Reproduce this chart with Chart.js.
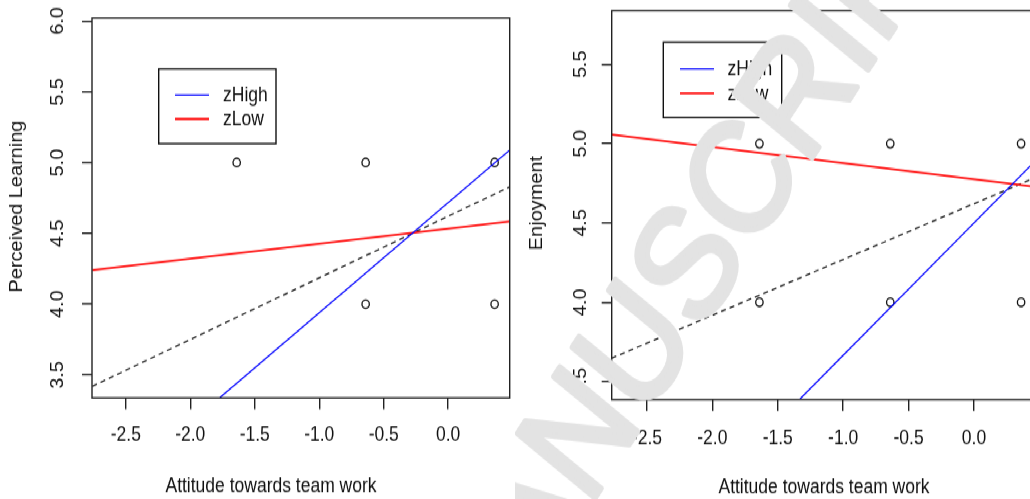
<!DOCTYPE html>
<html>
<head>
<meta charset="utf-8">
<script src="https://cdn.jsdelivr.net/npm/chart.js@4.4.0/dist/chart.umd.min.js"></script>
<style>
  html, body { margin:0; padding:0; background:#fff; overflow:hidden; width:1030px; height:499px; }
  /* the source picture is stretched vertically, so draw at 438px and stretch to 499 */
  #stage { position:absolute; left:0; top:0; width:1045px; height:438px; transform:scaleY(1.13927); transform-origin:0 0; }
  #p1 { position:absolute; left:0; top:0; }
  #p2 { position:absolute; left:515px; top:0; }
</style>
</head>
<body>
<div id="stage">
  <canvas id="p1" width="515" height="438"></canvas>
  <canvas id="p2" width="530" height="438"></canvas>
</div>
<script>
// tick labels
const xTicks = [-2.5, -2.0, -1.5, -1.0, -0.5, 0.0];
const learnTicks = [3.5, 4.0, 4.5, 5.0, 5.5, 6.0];
const enjoyTicks = [3.5, 4.0, 4.5, 5.0, 5.5];

// left panel: observed points
const learnX = [-1.64, -0.64, 0.36, -0.64, 0.36];
const learnY = [5, 5, 5, 4, 4];
// left panel: simple slopes (end points)
const learnHighX = [-1.77, 0.48];
const learnHighY = [3.34, 5.09];
const learnLowX = [-2.76, 0.48];
const learnLowY = [4.24, 4.585];
const learnMeanX = [-2.76, 0.48];
const learnMeanY = [3.42, 4.83];

// right panel: observed points
const enjoyX = [-2.64, -1.64, -0.64, 0.36, -1.64, -0.64, 0.36];
const enjoyY = [4, 5, 5, 5, 4, 4, 4];
// right panel: simple slopes
const enjoyHighX = [-1.33, 0.48];
const enjoyHighY = [3.39, 4.90];
const enjoyLowX = [-2.77, 0.48];
const enjoyLowY = [5.057, 4.726];
const enjoyMeanX = [-2.77, 0.48];
const enjoyMeanY = [3.647, 4.79];

const FONT = '"Liberation Sans", Arial, sans-serif';
const INK = '#111';

const pts = (xs, ys) => xs.map((x, i) => ({ x: x, y: ys[i] }));

// box round the plot, axis titles and an R style legend
const rPlot = {
  id: 'rPlot',
  afterDraw(chart, args, o) {
    const ctx = chart.ctx, a = chart.chartArea;
    ctx.save();
    ctx.strokeStyle = '#222';
    ctx.lineWidth = 1.4;
    ctx.strokeRect(a.left, a.top, a.right - a.left, a.bottom - a.top);

    ctx.fillStyle = INK;
    ctx.font = '17.5px ' + FONT;
    ctx.textAlign = 'center';
    ctx.textBaseline = 'middle';
    ctx.fillText(o.xTitle, o.xTitleX, o.xTitleY);
    ctx.save();
    ctx.translate(o.yTitleX, o.yTitleY);
    ctx.rotate(-Math.PI / 2);
    ctx.fillText(o.yTitle, 0, 0);
    ctx.restore();

    // legend
    ctx.lineWidth = 1.4;
    ctx.strokeStyle = '#111';
    ctx.strokeRect(o.boxX, o.boxY, o.boxW, o.boxH);
    const items = chart.data.datasets.filter(d => d.inLegend);
    ctx.textAlign = 'left';
    items.forEach((d, i) => {
      const y = o.rowY[i];
      ctx.strokeStyle = d.borderColor;
      ctx.lineWidth = d.borderWidth;
      ctx.beginPath();
      ctx.moveTo(o.lineX0, y);
      ctx.lineTo(o.lineX1, y);
      ctx.stroke();
      ctx.fillStyle = INK;
      ctx.fillText(d.label, o.textX, y + 1);
    });
    ctx.restore();
  }
};

// grey publisher watermark laid over the right panel
const watermark = {
  id: 'watermark',
  afterDraw(chart, args, o) {
    const ctx = chart.ctx;
    ctx.save();
    ctx.font = o.size + 'px ' + FONT;
    ctx.fillStyle = o.color;
    ctx.strokeStyle = o.color;
    ctx.lineWidth = o.thicken;
    ctx.lineJoin = 'round';
    ctx.translate(o.cx, o.cy);
    ctx.rotate(o.angle * Math.PI / 180);
    ctx.scale(o.squeeze, 1);
    const lead = ctx.measureText(o.text.slice(0, o.anchor)).width +
                 ctx.measureText(o.text[o.anchor]).width / 2;
    ctx.textAlign = 'left';
    ctx.textBaseline = 'alphabetic';
    ctx.fillText(o.text, -lead, o.size * 0.358);
    ctx.strokeText(o.text, -lead, o.size * 0.358);
    ctx.restore();
  }
};

function makeChart(id, c) {
  const tickFont = { family: FONT, size: 17.5 };
  return new Chart(document.getElementById(id), {
    type: 'scatter',
    data: {
      datasets: [
        { label: 'zHigh', inLegend: true, data: pts(c.highX, c.highY), showLine: true,
          borderColor: '#0000ff', borderWidth: 1.2, pointRadius: 0 },
        { label: 'zLow', inLegend: true, data: pts(c.lowX, c.lowY), showLine: true,
          borderColor: '#ff1010', borderWidth: 1.8, pointRadius: 0 },
        { label: 'mean', data: pts(c.meanX, c.meanY), showLine: true,
          borderColor: '#222', borderWidth: 1.3, borderDash: [5, 4], pointRadius: 0 },
        { label: 'observed', data: pts(c.obsX, c.obsY), pointStyle: 'circle',
          pointRadius: 3.7, borderColor: '#111', borderWidth: 1.3,
          backgroundColor: 'rgba(0,0,0,0)' }
      ]
    },
    options: {
      responsive: false,
      animation: false,
      devicePixelRatio: 1,
      layout: { padding: { left: 0, right: c.padR, top: c.padT, bottom: 0 } },
      scales: {
        x: {
          type: 'linear', position: 'bottom', min: c.xMin, max: c.xMax,
          afterBuildTicks: s => { s.ticks = xTicks.map(v => ({ value: v })); },
          afterFit: s => { s.height = c.xH; s.paddingLeft = 0; s.paddingRight = 0; },
          ticks: { autoSkip: false, maxRotation: 0, padding: c.xPad, font: tickFont, color: INK,
                   callback: v => Number(v).toFixed(1) },
          grid: { drawOnChartArea: false, tickLength: 10, color: '#222', lineWidth: 1.4 },
          border: { display: false }
        },
        y: {
          type: 'linear', position: 'left', min: c.yMin, max: c.yMax,
          afterBuildTicks: s => { s.ticks = c.yTicks.map(v => ({ value: v })); },
          afterFit: s => { s.width = c.yW; s.paddingTop = 0; s.paddingBottom = 0; },
          ticks: { autoSkip: false, minRotation: 90, maxRotation: 90, crossAlign: 'center',
                   padding: c.yPad, font: tickFont, color: INK,
                   callback: v => Number(v).toFixed(1) },
          grid: { drawOnChartArea: false, tickLength: 10, color: '#222', lineWidth: 1.4 },
          border: { display: false }
        }
      },
      plugins: {
        legend: { display: false },
        tooltip: { enabled: false },
        rPlot: c.deco,
        watermark: c.mark || {}
      }
    },
    plugins: c.mark ? [rPlot, watermark] : [rPlot]
  });
}

makeChart('p1', {
  highX: learnHighX, highY: learnHighY, lowX: learnLowX, lowY: learnLowY,
  meanX: learnMeanX, meanY: learnMeanY, obsX: learnX, obsY: learnY,
  yTicks: learnTicks,
  xMin: -2.762, xMax: 0.477, yMin: 3.338, yMax: 6.021,
  padR: 0.5, padT: 15.8, xH: 88.7, yW: 92, xPad: 12, yPad: 12,
  deco: {
    xTitle: 'Attitude towards team work', xTitleX: 271, xTitleY: 427,
    yTitle: 'Perceived Learning', yTitleX: 17, yTitleY: 181.3,
    boxX: 158.7, boxY: 60.6, boxW: 117.3, boxH: 65.5,
    lineX0: 175, lineX1: 209, rowY: [83.4, 104.5], textX: 223
  }
});

makeChart('p2', {
  highX: enjoyHighX, highY: enjoyHighY, lowX: enjoyLowX, lowY: enjoyLowY,
  meanX: enjoyMeanX, meanY: enjoyMeanY, obsX: enjoyX, obsY: enjoyY,
  yTicks: enjoyTicks,
  xMin: -2.769, xMax: 0.477, yMin: 3.386, yMax: 5.838,
  padR: 8.6, padT: 9.4, xH: 87.2, yW: 96.7, xPad: 13.4, yPad: 8,
  deco: {
    xTitle: 'Attitude towards team work', xTitleX: 309, xTitleY: 428.4,
    yTitle: 'Enjoyment', yTitleX: 22, yTitleY: 178.3,
    boxX: 148.3, boxY: 37.1, boxW: 118.4, boxH: 66.2,
    lineX0: 165, lineX1: 199, rowY: [60.6, 81.9], textX: 212.5
  },
  mark: { text: 'ACCEPTED MANUSCRIPT', anchor: 14, cx: 222.5, cy: 156, angle: -54,
          size: 140, squeeze: 0.93, thicken: 5, color: '#e3e3e3' }
});
</script>
</body>
</html>
